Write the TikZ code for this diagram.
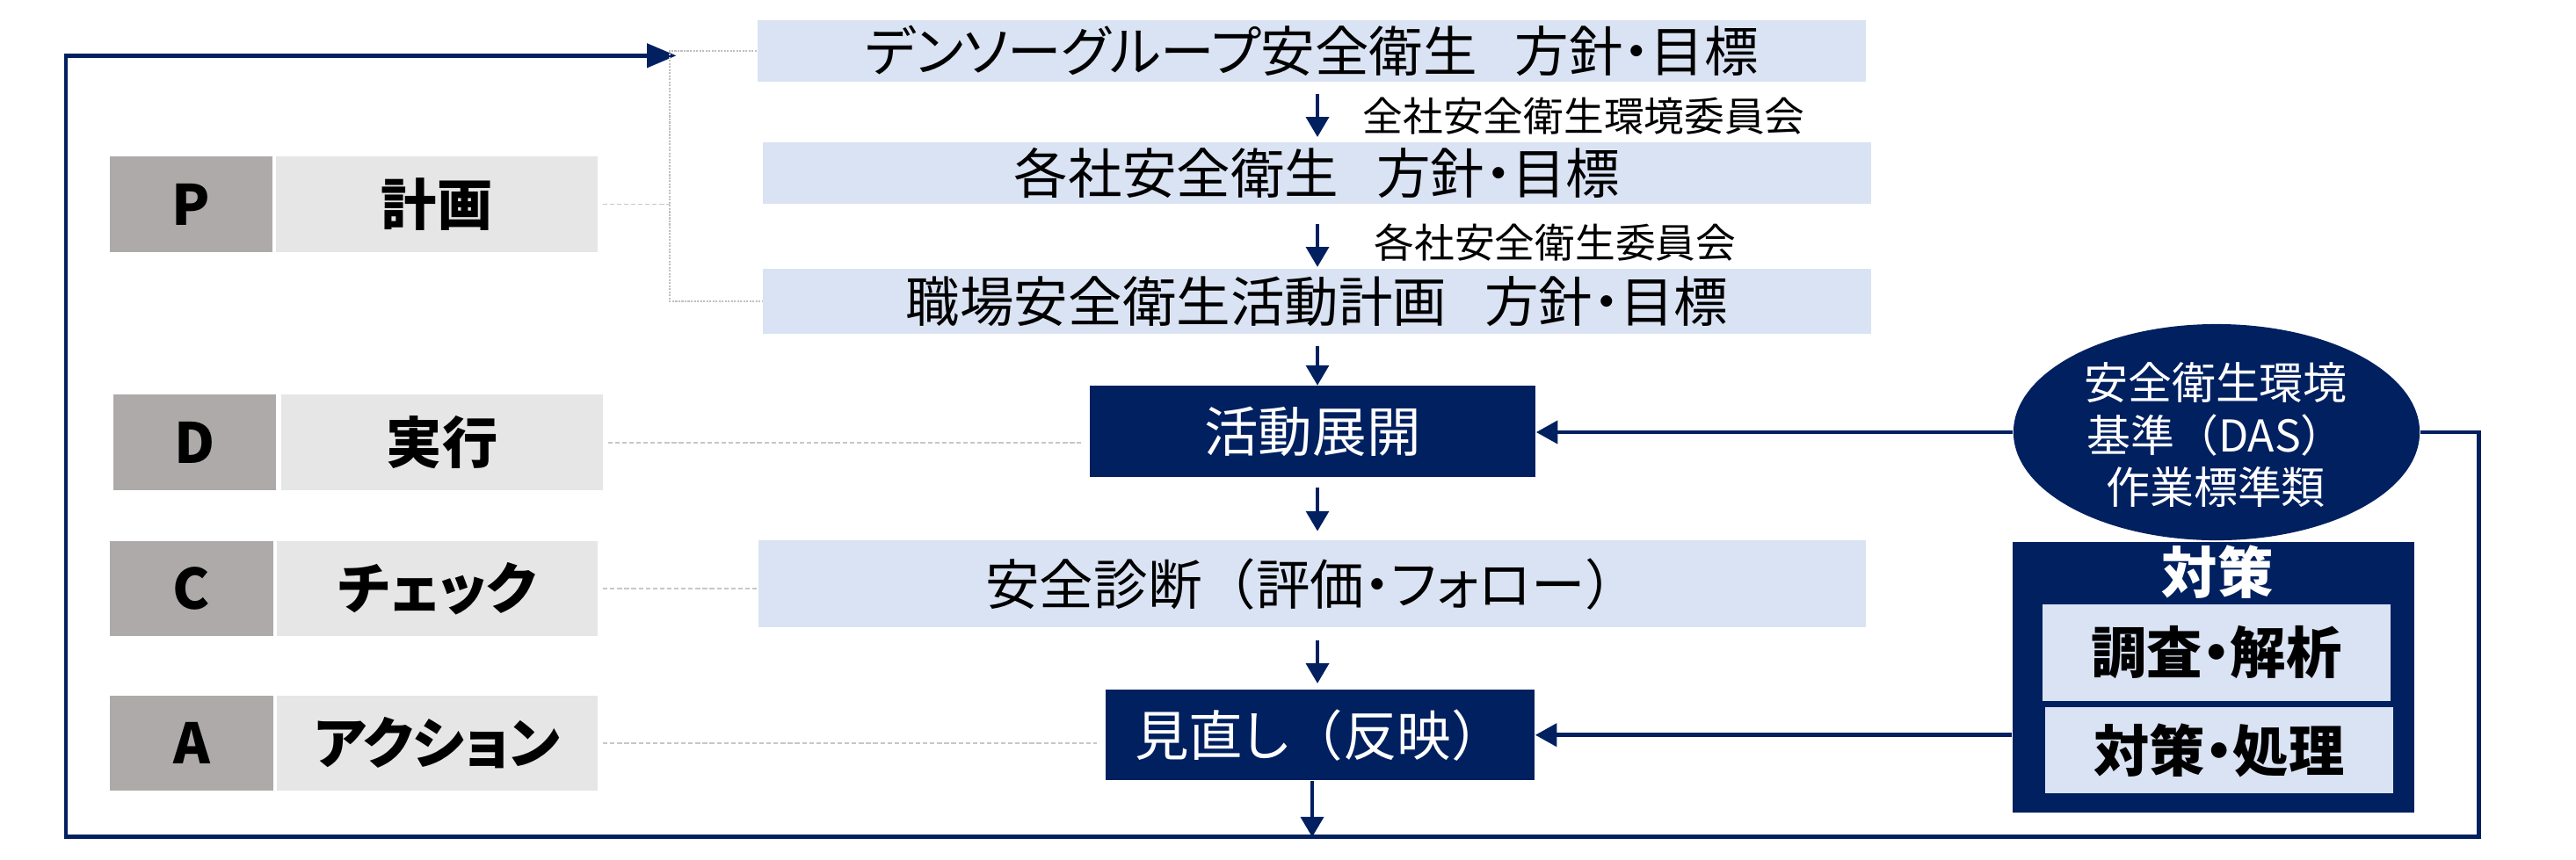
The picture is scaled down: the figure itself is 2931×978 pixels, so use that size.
\documentclass[tikz,border=0pt]{standalone}
\usepackage{fontspec}
\newfontfamily\jp{Noto Sans CJK JP}[RawFeature=+palt]
\newfontfamily\jpw{Noto Sans CJK JP}
\newcommand\lpar{{\jpw （}}
\newcommand\rpar{{\jpw ）}}
\newcommand\gap{\hspace{0.7em}}
\usetikzlibrary{arrows.meta,shapes.geometric}
\definecolor{navy}{HTML}{002060}
\definecolor{lightblue}{HTML}{DAE3F3}
\definecolor{keygrey}{HTML}{AEAAAA}
\definecolor{namegrey}{HTML}{E7E6E6}
\tikzset{
 mainbox/.style={rectangle, fill=lightblue, inner sep=0pt, text=black, font=\jp\fontsize{17.5pt}{21pt}\selectfont},
 darkbox/.style={rectangle, fill=navy, inner sep=0pt, text=white, font=\jp\fontsize{17.5pt}{21pt}\selectfont},
 lab/.style={inner sep=0pt, text=black, font=\jp\fontsize{13pt}{16pt}\selectfont},
 keybox/.style={rectangle, fill=keygrey, inner sep=0pt, minimum width=1.85cm, minimum height=1.085cm, text=black, font=\jp\bfseries\fontsize{18pt}{21pt}\selectfont},
 namebox/.style={rectangle, fill=namegrey, inner sep=0pt, minimum width=3.65cm, minimum height=1.085cm, text=black, font=\jp\bfseries\fontsize{18pt}{21pt}\selectfont},
 subbox/.style={rectangle, fill=lightblue, inner sep=0pt, minimum width=3.96cm, text=black, font=\jp\bfseries\fontsize{18pt}{21pt}\selectfont},
 arr/.style={draw=navy, line width=1pt, -{Triangle[length=6.5pt,width=7.4pt]}},
 harr/.style={draw=navy, line width=1.3pt, -{Triangle[length=7pt,width=7.4pt]}},
 loopline/.style={draw=navy, line width=1.4pt},
 conn/.style={draw=black!22, line width=0.5pt, dash pattern=on 1.5pt off 0.8pt},
 brk/.style={draw=black!25, line width=0.35pt, dash pattern=on 0.6pt off 0.4pt},
}
\begin{document}
\begin{tikzpicture}[x=0.01cm,y=-0.01cm]
\useasboundingbox (0,0) rectangle (2931,978);

% main flow boxes
\node[mainbox, minimum width=12.61cm, minimum height=0.694cm] (b1) at (1492.5,58) {デンソーグループ安全衛生\gap 方針・目標};
\node[mainbox, minimum width=12.60cm, minimum height=0.694cm] (b2) at (1498.6,197) {各社安全衛生\gap 方針・目標};
\node[mainbox, minimum width=12.60cm, minimum height=0.74cm] (b3) at (1498.6,343) {職場安全衛生活動計画\gap 方針・目標};
\node[darkbox, minimum width=5.07cm, minimum height=1.034cm] (act) at (1493.5,491.1) {活動展開};
\node[mainbox, minimum width=12.60cm, minimum height=0.988cm] (diag) at (1493,664.6) {安全診断\lpar 評価・フォロー\rpar};
\node[darkbox, minimum width=4.88cm, minimum height=1.034cm] (rev) at (1502,836.7) {見直し\lpar 反映\rpar};

% committee labels
\node[lab, anchor=west] (l1) at (1550,132) {全社安全衛生環境委員会};
\node[lab, anchor=west] (l2) at (1563,276) {各社安全衛生委員会};

% PDCA labels
\node[keybox] (pk) at (217.5,232.5) {P};
\node[namebox] (pn) at (497,232.5) {計画};
\node[keybox] (dk) at (221.4,503.7) {D};
\node[namebox] (dn) at (503,503.7) {実行};
\node[keybox] (ck) at (218,670) {C};
\node[namebox] (cn) at (497.5,670) {チェック};
\node[keybox] (ak) at (218,845.9) {A};
\node[namebox] (an) at (497.5,845.9) {アクション};

% right side
\node[ellipse, fill=navy, inner sep=0pt, minimum width=4.62cm, minimum height=2.46cm] (ell) at (2522,492) {};
\node[align=center, inner sep=0pt, text=white, font=\jp\fontsize{14.2pt}{17pt}\selectfont] (ellt) at (2521,495) {安全衛生環境\\基準\lpar DAS\rpar\\作業標準類};
\node[rectangle, fill=navy, inner sep=0pt, minimum width=4.57cm, minimum height=3.07cm] (tb) at (2518.5,771) {};
\node[inner sep=0pt, text=white, font=\jp\bfseries\fontsize{18pt}{21pt}\selectfont] (tt) at (2523,651.5) {対策};
\node[subbox, minimum height=1.10cm] (t1) at (2522,742.8) {調査・解析};
\node[subbox, minimum height=0.985cm] (t2) at (2525,854) {対策・処理};

% vertical arrows
\coordinate (ax) at (1499,0);
\draw[arr, shorten <=4pt, shorten >=1.6pt] (b1.south -| ax) -- (b2.north -| ax);
\draw[arr, shorten <=6.4pt, shorten >=0.4pt] (b2.south -| ax) -- (b3.north -| ax);
\draw[arr, shorten <=3.8pt] (b3.south -| ax) -- (act.north -| ax);
\draw[arr, shorten <=3.3pt, shorten >=2.8pt] (act.south -| ax) -- (diag.north -| ax);
\draw[arr, shorten <=4pt, shorten >=1.8pt] (diag.south -| ax) -- (rev.north -| ax);
\coordinate (bl) at (1493,952.8);
\draw[arr] (rev.south -| bl) -- (bl);

% feedback loop
\coordinate (cR) at (2820,952.8);
\coordinate (cL) at (75,63.3);
\coordinate (tip) at (769.6,63.3);
\draw[loopline, -{Triangle[length=9.5pt,width=7.6pt]}] (ell.east) -| (cR) -| (cL) -- (tip);
\draw[harr] (ell.west) -- (ell.west -| act.east);
\draw[harr] (tb.west |- rev.east) -- (rev.east);

% dotted guides
\coordinate (brx) at (762,200);
\draw[brk] (b1.west) -| (brx) |- (b3.west);
\draw[conn, shorten <=1.5pt] (pn.east) -- (pn.east -| brx);
\draw[conn, shorten <=1.5pt, shorten >=2.5pt] (dn.east) -- (dn.east -| act.west);
\draw[conn, shorten <=1.5pt] (cn.east) -- (cn.east -| diag.west);
\draw[conn, shorten <=1.5pt, shorten >=2.5pt] (an.east) -- (an.east -| rev.west);
\end{tikzpicture}
\end{document}
